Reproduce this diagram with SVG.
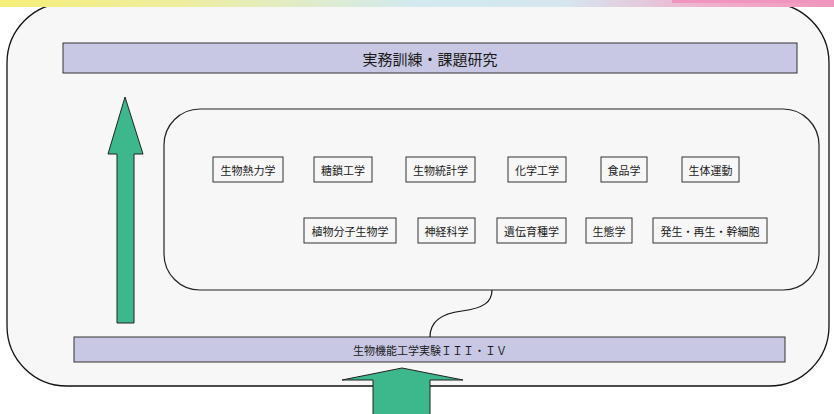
<svg xmlns="http://www.w3.org/2000/svg" width="834" height="414" viewBox="0 0 834 414">
<defs>
<linearGradient id="topg" x1="0" y1="0" x2="1" y2="0">
<stop offset="0" stop-color="#f6ee78"/>
<stop offset="0.22" stop-color="#eeeea0"/>
<stop offset="0.5" stop-color="#d2eaf0"/>
<stop offset="0.68" stop-color="#d6e6ee"/>
<stop offset="0.85" stop-color="#f0b0cc"/>
<stop offset="1" stop-color="#f096be"/>
</linearGradient>
</defs>
<style>
.bar{fill:#c8c8e4;stroke:#333;stroke-width:1}
.box{fill:#f7f7f7;stroke:#333;stroke-width:1}
.arrow{fill:#3cb88c;stroke:#222;stroke-width:1}
text{font-family:"Noto Sans CJK JP","Noto Sans CJK SC",sans-serif;fill:#1a1a1a;text-anchor:middle;dominant-baseline:central}
.t{font-size:11px}
</style>
<rect x="0" y="0" width="834" height="414" fill="#ffffff"/>
<rect id="outer" x="7" y="3" width="822" height="383" rx="60" ry="60" fill="#f7f7f7" stroke="#111" stroke-width="1.3"/>
<rect x="0" y="0" width="834" height="7" fill="url(#topg)"/>
<rect x="672" y="0" width="162" height="3" fill="#f096be"/>
<g id="title">
<rect class="bar" x="63" y="43" width="734" height="30"/>
<text x="430" y="58" font-size="15">実務訓練・課題研究</text>
</g>
<g id="group">
<rect x="164" y="109" width="655" height="181" rx="36" ry="36" fill="#f7f7f7" stroke="#222" stroke-width="1.2"/>
</g>
<g id="n1"><rect class="box" x="213" y="157" width="70" height="25"/><text class="t" x="248" y="169.5">生物熱力学</text></g>
<g id="n2"><rect class="box" x="314" y="157" width="58" height="25"/><text class="t" x="343" y="169.5">糖鎖工学</text></g>
<g id="n3"><rect class="box" x="406" y="157" width="69" height="25"/><text class="t" x="440.5" y="169.5">生物統計学</text></g>
<g id="n4"><rect class="box" x="508" y="157" width="58" height="25"/><text class="t" x="537" y="169.5">化学工学</text></g>
<g id="n5"><rect class="box" x="601" y="157" width="46" height="25"/><text class="t" x="624" y="169.5">食品学</text></g>
<g id="n6"><rect class="box" x="682" y="157" width="57" height="25"/><text class="t" x="710.5" y="169.5">生体運動</text></g>
<g id="n7"><rect class="box" x="304" y="218" width="92" height="25"/><text class="t" x="350" y="230.5">植物分子生物学</text></g>
<g id="n8"><rect class="box" x="418" y="218" width="57" height="25"/><text class="t" x="446.5" y="230.5">神経科学</text></g>
<g id="n9"><rect class="box" x="497" y="218" width="69" height="25"/><text class="t" x="531.5" y="230.5">遺伝育種学</text></g>
<g id="n10"><rect class="box" x="586" y="218" width="46" height="25"/><text class="t" x="609" y="230.5">生態学</text></g>
<g id="n11"><rect class="box" x="653" y="218" width="114" height="25"/><text class="t" x="710" y="230.5">発生・再生・幹細胞</text></g>
<g id="bottom">
<rect class="bar" x="74" y="337" width="711" height="25"/>
<text class="t" x="430" y="350">生物機能工学実験ＩＩＩ・ＩＶ</text>
</g>
<g id="connectors">
<path d="M430,337 C430,320 445,313 462,311 C484,308 492,302 492,290" fill="none" stroke="#111" stroke-width="1.2"/>
</g>
<g id="arrows">
<polygon class="arrow" points="125,97 143,154 134,154 134,323 117,323 117,154 108,154"/>
<polygon class="arrow" points="402,368 463,380 430,380 430,415 373,415 373,380 342,380"/>
</g>
</svg>
